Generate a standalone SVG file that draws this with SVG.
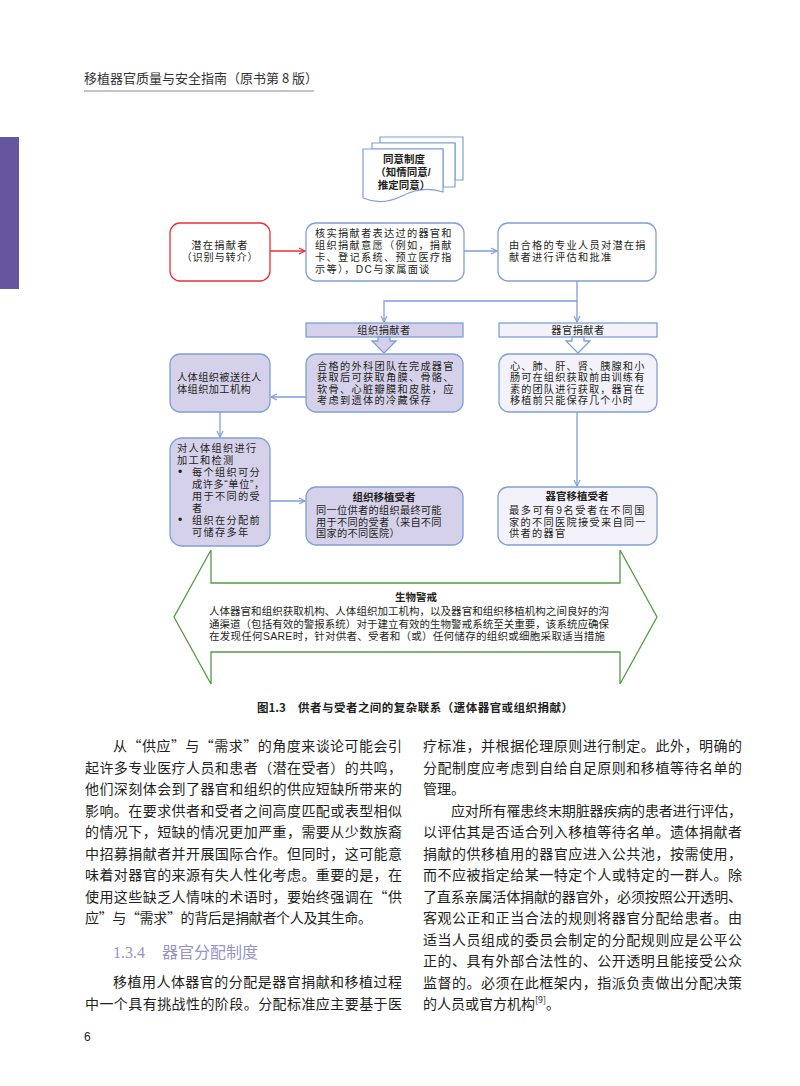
<svg xmlns="http://www.w3.org/2000/svg" width="800" height="1086" viewBox="0 0 800 1086">
<defs>
<style>
text{font-family:"Noto Sans CJK SC","Liberation Sans",sans-serif;fill:#231f20}
.bx{font-family:"Liberation Sans","Noto Sans CJK SC",sans-serif;font-size:10.2px;letter-spacing:1.3px}
.bt{font-family:"Liberation Sans","Noto Sans CJK SC",sans-serif;font-size:10.5px;font-weight:bold}
.box{stroke:#7f9fd6;stroke-width:1.3}
.lav{fill:#d6d1ea}
.lt{fill:#f3f2fa}
.wh{fill:#ffffff}
.con{fill:none;stroke:#7f9fd6;stroke-width:1.3}
.body{font-size:14px}
.doc{fill:#fff;stroke:#7f9fd6;stroke-width:1.2}
.bv{font-family:"Liberation Sans","Noto Sans CJK SC",sans-serif;font-size:10.5px}
</style>
<marker id="ab" viewBox="0 0 8 8" refX="7" refY="4" markerWidth="8" markerHeight="8" markerUnits="userSpaceOnUse" orient="auto">
<path d="M1,1 L7,4 L1,7" fill="none" stroke="#7f9fd6" stroke-width="1.2"/>
</marker>
<marker id="ar" viewBox="0 0 8 8" refX="7" refY="4" markerWidth="8" markerHeight="8" markerUnits="userSpaceOnUse" orient="auto">
<path d="M1,1 L7,4 L1,7" fill="none" stroke="#e8303a" stroke-width="1.2"/>
</marker>
</defs>
<rect width="800" height="1086" fill="#ffffff"/>

<g id="header">
<text x="84" y="83" style="font-size:13px;fill:#333">移植器官质量与安全指南（原书第 8 版）</text>
<line x1="84" y1="91" x2="314" y2="91" stroke="#8a8a8a" stroke-width="1"/>
<rect x="0" y="137" width="19" height="152" fill="#6656a0"/>
</g>

<g id="consent">
<path class="doc" d="M380,137 H463 V180 H455 V143 H380 Z"/>
<path class="doc" d="M372,143 H455 V187 H443 V149 H372 Z"/>
<path class="doc" d="M363,149 H443 V192 C428,187 414,190 402,196 C388,203 375,203 363,198 Z"/>
<text class="bt" x="404" y="163" text-anchor="middle">同意制度</text>
<text class="bt" x="403" y="176" text-anchor="middle">（知情同意/</text>
<text class="bt" x="404" y="189" text-anchor="middle">推定同意）</text>
</g>

<g id="potential-donor">
<rect x="170" y="223" width="100" height="58" rx="10" fill="#fff" stroke="#e8303a" stroke-width="1.3"/>
<text class="bx" x="220" y="249" text-anchor="middle">潜在捐献者</text>
<text class="bx" x="220" y="261" text-anchor="middle" style="letter-spacing:0.8px">（识别与转介）</text>
</g>

<g id="verify">
<rect class="box wh" x="306" y="223" width="158" height="58" rx="10"/>
<text class="bx" x="315" y="237">核实捐献者表达过的器官和</text>
<text class="bx" x="315" y="249">组织捐献意愿（例如，捐献</text>
<text class="bx" x="315" y="261">卡、登记系统、预立医疗指</text>
<text class="bx" x="315" y="273">示等），DC与家属面谈</text>
</g>

<g id="evaluate">
<rect class="box wh" x="498" y="223" width="158" height="58" rx="10"/>
<text class="bx" x="509" y="249">由合格的专业人员对潜在捐</text>
<text class="bx" x="509" y="261">献者进行评估和批准</text>
</g>

<g id="tissue-donor">
<rect class="box lav" x="306" y="323" width="157" height="14"/>
<text class="bx" x="384" y="334" text-anchor="middle" style="letter-spacing:0.5px">组织捐献者</text>
<polygon class="box lav" points="378,337 390,337 390,341 396,341 384,353 372,341 378,341"/>
</g>

<g id="organ-donor">
<rect class="box lt" x="499" y="323" width="158" height="14"/>
<text class="bx" x="578" y="334" text-anchor="middle" style="letter-spacing:0.5px">器官捐献者</text>
<polygon class="box wh" points="572,337 584,337 584,341 590,341 578,353 566,341 572,341"/>
</g>

<g id="tissue-sent">
<rect class="box lav" x="170" y="354" width="100" height="58" rx="10"/>
<text class="bx" x="177" y="381" style="letter-spacing:0.4px">人体组织被送往人</text>
<text class="bx" x="177" y="393" style="letter-spacing:0.4px">体组织加工机构</text>
</g>

<g id="surgical-team">
<rect class="box lav" x="306" y="354" width="157" height="58" rx="10"/>
<text class="bx" x="317" y="369.5">合格的外科团队在完成器官</text>
<text class="bx" x="317" y="381">获取后可获取角膜、骨骼、</text>
<text class="bx" x="317" y="392.5">软骨、心脏瓣膜和皮肤，应</text>
<text class="bx" x="317" y="404">考虑到遗体的冷藏保存</text>
</g>

<g id="organs">
<rect class="box lt" x="499" y="354" width="158" height="58" rx="10"/>
<text class="bx" x="510" y="369.5" style="letter-spacing:1.1px">心、肺、肝、肾、胰腺和小</text>
<text class="bx" x="510" y="381" style="letter-spacing:1.1px">肠可在组织获取前由训练有</text>
<text class="bx" x="510" y="392.5" style="letter-spacing:1.1px">素的团队进行获取，器官在</text>
<text class="bx" x="510" y="404" style="letter-spacing:1.1px">移植前只能保存几个小时</text>
</g>

<g id="processing">
<rect class="box lav" x="170" y="438" width="100" height="108" rx="12"/>
<text class="bx" x="177" y="452">对人体组织进行</text>
<text class="bx" x="177" y="464">加工和检测</text>
<text class="bx" x="178" y="476" style="font-size:12px">•</text>
<text class="bx" x="192" y="476">每个组织可分</text>
<text class="bx" x="192" y="488" style="letter-spacing:0.6px">成许多“单位”，</text>
<text class="bx" x="192" y="500">用于不同的受</text>
<text class="bx" x="192" y="512">者</text>
<text class="bx" x="178" y="524" style="font-size:12px">•</text>
<text class="bx" x="192" y="524">组织在分配前</text>
<text class="bx" x="192" y="536">可储存多年</text>
</g>

<g id="tissue-recipient">
<rect class="box lav" x="306" y="487" width="157" height="58" rx="10"/>
<text class="bt" x="384" y="501" text-anchor="middle">组织移植受者</text>
<text class="bx" x="316" y="514" style="letter-spacing:0.3px">同一位供者的组织最终可能</text>
<text class="bx" x="316" y="525.5" style="letter-spacing:0.3px">用于不同的受者（来自不同</text>
<text class="bx" x="316" y="537" style="letter-spacing:0.3px">国家的不同医院）</text>
</g>

<g id="organ-recipient">
<rect class="box lt" x="498" y="487" width="159" height="58" rx="10"/>
<text class="bt" x="577" y="500" text-anchor="middle">器官移植受者</text>
<text class="bx" x="509" y="514" style="letter-spacing:1.6px">最多可有9名受者在不同国</text>
<text class="bx" x="509" y="525.5">家的不同医院接受来自同一</text>
<text class="bx" x="509" y="537">供者的器官</text>
</g>

<g id="biovigilance">
<polygon points="211,583 211,550 174,617 211,684 211,652 620,652 620,684 657,617 620,550 620,583" fill="#fff" stroke="#559a45" stroke-width="1.3"/>
<text class="bv" x="416" y="601" text-anchor="middle" style="font-weight:bold">生物警戒</text>
<text class="bv" x="209" y="615" textLength="400" lengthAdjust="spacing">人体器官和组织获取机构、人体组织加工机构，以及器官和组织移植机构之间良好的沟</text>
<text class="bv" x="209" y="628" textLength="400" lengthAdjust="spacing">通渠道（包括有效的警报系统）对于建立有效的生物警戒系统至关重要，该系统应确保</text>
<text class="bv" x="209" y="640" textLength="396" lengthAdjust="spacing">在发现任何SARE时，针对供者、受者和（或）任何储存的组织或细胞采取适当措施</text>
</g>

<g id="connectors">
<line x1="270" y1="251" x2="305" y2="251" stroke="#e8303a" stroke-width="1.3" marker-end="url(#ar)"/>
<line class="con" x1="464" y1="251" x2="497" y2="251" marker-end="url(#ab)"/>
<path class="con" d="M577,281 V301 H384 V322" marker-end="url(#ab)"/>
<path class="con" d="M577,301 V322" marker-end="url(#ab)"/>
<line class="con" x1="306" y1="397" x2="271" y2="397" marker-end="url(#ab)"/>
<line class="con" x1="220" y1="412" x2="220" y2="437" marker-end="url(#ab)"/>
<line class="con" x1="270" y1="501" x2="305" y2="501" marker-end="url(#ab)"/>
<line class="con" x1="577" y1="412" x2="577" y2="486" marker-end="url(#ab)"/>
</g>

<g id="caption">
<text x="257" y="712" style="font-size:11.5px;font-weight:bold">图1.3</text>
<text x="298" y="712" textLength="275" lengthAdjust="spacing" style="font-size:11.5px;font-weight:bold">供者与受者之间的复杂联系（遗体器官或组织捐献）</text>
</g>

<g id="body-left">
<text class="body" x="113" y="751" textLength="289" lengthAdjust="spacing">从“供应”与“需求”的角度来谈论可能会引</text>
<text class="body" x="85" y="772.5" textLength="317" lengthAdjust="spacing">起许多专业医疗人员和患者（潜在受者）的共鸣，</text>
<text class="body" x="85" y="794" textLength="317" lengthAdjust="spacing">他们深刻体会到了器官和组织的供应短缺所带来的</text>
<text class="body" x="85" y="815.5" textLength="317" lengthAdjust="spacing">影响。在要求供者和受者之间高度匹配或表型相似</text>
<text class="body" x="85" y="837" textLength="317" lengthAdjust="spacing">的情况下，短缺的情况更加严重，需要从少数族裔</text>
<text class="body" x="85" y="858.5" textLength="317" lengthAdjust="spacing">中招募捐献者并开展国际合作。但同时，这可能意</text>
<text class="body" x="85" y="880" textLength="317" lengthAdjust="spacing">味着对器官的来源有失人性化考虑。重要的是，在</text>
<text class="body" x="85" y="901.5" textLength="317" lengthAdjust="spacing">使用这些缺乏人情味的术语时，要始终强调在“供</text>
<text class="body" x="85" y="923" textLength="287" lengthAdjust="spacing">应”与“需求”的背后是捐献者个人及其生命。</text>
<text x="113" y="958" style="font-size:16px;fill:#9892c8"><tspan style="font-family:'Liberation Serif';fill:#9892c8">1.3.4</tspan><tspan x="162" style="fill:#9892c8">器官分配制度</tspan></text>
<text class="body" x="113" y="987" textLength="289" lengthAdjust="spacing">移植用人体器官的分配是器官捐献和移植过程</text>
<text class="body" x="85" y="1008.5" textLength="317" lengthAdjust="spacing">中一个具有挑战性的阶段。分配标准应主要基于医</text>
</g>

<g id="body-right">
<text class="body" x="423" y="751" textLength="319" lengthAdjust="spacing">疗标准，并根据伦理原则进行制定。此外，明确的</text>
<text class="body" x="423" y="772.5" textLength="319" lengthAdjust="spacing">分配制度应考虑到自给自足原则和移植等待名单的</text>
<text class="body" x="423" y="794">管理。</text>
<text class="body" x="451" y="815.5" textLength="291" lengthAdjust="spacing">应对所有罹患终末期脏器疾病的患者进行评估，</text>
<text class="body" x="423" y="837" textLength="319" lengthAdjust="spacing">以评估其是否适合列入移植等待名单。遗体捐献者</text>
<text class="body" x="423" y="858.5" textLength="319" lengthAdjust="spacing">捐献的供移植用的器官应进入公共池，按需使用，</text>
<text class="body" x="423" y="880" textLength="319" lengthAdjust="spacing">而不应被指定给某一特定个人或特定的一群人。除</text>
<text class="body" x="423" y="901.5" textLength="319" lengthAdjust="spacing">了直系亲属活体捐献的器官外，必须按照公开透明、</text>
<text class="body" x="423" y="923" textLength="319" lengthAdjust="spacing">客观公正和正当合法的规则将器官分配给患者。由</text>
<text class="body" x="423" y="944.5" textLength="319" lengthAdjust="spacing">适当人员组成的委员会制定的分配规则应是公平公</text>
<text class="body" x="423" y="966" textLength="319" lengthAdjust="spacing">正的、具有外部合法性的、公开透明且能接受公众</text>
<text class="body" x="423" y="987.5" textLength="319" lengthAdjust="spacing">监督的。必须在此框架内，指派负责做出分配决策</text>
<text class="body" x="423" y="1009">的人员或官方机构<tspan dy="-6" style="font-size:9px">[9]</tspan><tspan dy="6">。</tspan></text>
</g>

<g id="page-number">
<text x="84" y="1041" style="font-size:12px;font-family:'Liberation Sans',sans-serif">6</text>
</g>
</svg>
